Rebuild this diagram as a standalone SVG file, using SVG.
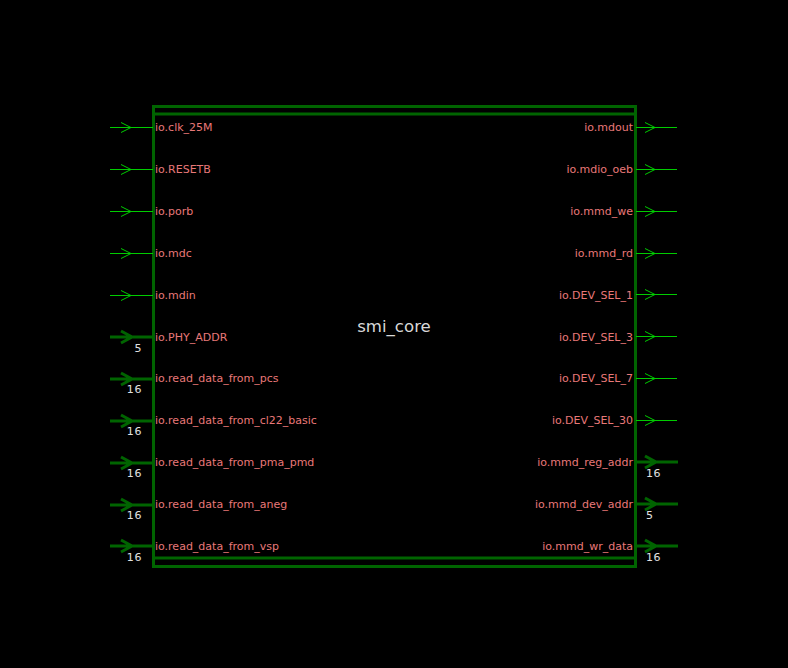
<svg xmlns="http://www.w3.org/2000/svg" width="788" height="668" viewBox="0 0 788 668">
<defs>
<style>
.bg{fill:#000}
.box{fill:none;stroke:#006400;stroke-width:3}
.w1{stroke:#00cc00;stroke-width:1;fill:none}
.wb{stroke:#006400;stroke-width:3;fill:none}
.pl{font-family:"DejaVu Sans",sans-serif;font-size:11px;fill:#e87878}
.pr{font-family:"DejaVu Sans",sans-serif;font-size:11px;fill:#e87878;text-anchor:end}
.wd{font-family:"DejaVu Sans",sans-serif;font-size:11px;fill:#e0e0e0;letter-spacing:0.6px}
.title{font-family:"DejaVu Sans",sans-serif;font-size:16.6px;fill:#d8d8d8;text-anchor:middle}
</style>
</defs>
<rect class="bg" width="788" height="668"/>
<g id="smi_core">
<rect class="box" x="153.5" y="106.5" width="482" height="460"/>
<line class="box" x1="153.5" y1="114" x2="635.5" y2="114"/>
<line class="box" x1="153.5" y1="558" x2="635.5" y2="558"/>
<text class="title" x="394" y="332">smi_core</text>
</g>
<g id="connectors">
<g transform="translate(0,0.5)">
<path class="w1" d="M110 127H153M121 122L131 127L121 132"/>
<path class="w1" d="M110 169H153M121 164L131 169L121 174"/>
<path class="w1" d="M110 211H153M121 206L131 211L121 216"/>
<path class="w1" d="M110 253H153M121 248L131 253L121 258"/>
<path class="w1" d="M110 295H153M121 290L131 295L121 300"/>
<path class="w1" d="M636 127H677M645 122L655 127L645 132"/>
<path class="w1" d="M636 169H677M645 164L655 169L645 174"/>
<path class="w1" d="M636 211H677M645 206L655 211L645 216"/>
<path class="w1" d="M636 253H677M645 248L655 253L645 258"/>
<path class="w1" d="M636 294H677M645 289L655 294L645 299"/>
<path class="w1" d="M636 336H677M645 331L655 336L645 341"/>
<path class="w1" d="M636 378H677M645 373L655 378L645 383"/>
<path class="w1" d="M636 420H677M645 415L655 420L645 425"/>
</g>
<path class="wb" d="M110 337H153M121 331L132 337L121 343"/>
<path class="wb" d="M110 379H153M121 373L132 379L121 385"/>
<path class="wb" d="M110 421H153M121 415L132 421L121 427"/>
<path class="wb" d="M110 463H153M121 457L132 463L121 469"/>
<path class="wb" d="M110 505H153M121 499L132 505L121 511"/>
<path class="wb" d="M110 546H153M121 540L132 546L121 552"/>
<path class="wb" d="M636 462H678M645 456L656 462L645 468"/>
<path class="wb" d="M636 504H678M645 498L656 504L645 510"/>
<path class="wb" d="M636 546H678M645 540L656 546L645 552"/>
</g>
<g id="labels">
<text class="pl" x="155" y="131">io.clk_25M</text>
<text class="pl" x="155" y="173">io.RESETB</text>
<text class="pl" x="155" y="215">io.porb</text>
<text class="pl" x="155" y="257">io.mdc</text>
<text class="pl" x="155" y="299">io.mdin</text>
<text class="pl" x="155" y="341">io.PHY_ADDR</text>
<text class="pl" x="155" y="382">io.read_data_from_pcs</text>
<text class="pl" x="155" y="424">io.read_data_from_cl22_basic</text>
<text class="pl" x="155" y="466">io.read_data_from_pma_pmd</text>
<text class="pl" x="155" y="508">io.read_data_from_aneg</text>
<text class="pl" x="155" y="550">io.read_data_from_vsp</text>
<text class="wd" x="142" y="352" text-anchor="end">5</text>
<text class="wd" x="142" y="393" text-anchor="end">16</text>
<text class="wd" x="142" y="435" text-anchor="end">16</text>
<text class="wd" x="142" y="477" text-anchor="end">16</text>
<text class="wd" x="142" y="519" text-anchor="end">16</text>
<text class="wd" x="142" y="561" text-anchor="end">16</text>
<text class="pr" x="633" y="131">io.mdout</text>
<text class="pr" x="633" y="173">io.mdio_oeb</text>
<text class="pr" x="633" y="215">io.mmd_we</text>
<text class="pr" x="633" y="257">io.mmd_rd</text>
<text class="pr" x="633" y="299">io.DEV_SEL_1</text>
<text class="pr" x="633" y="341">io.DEV_SEL_3</text>
<text class="pr" x="633" y="382">io.DEV_SEL_7</text>
<text class="pr" x="633" y="424">io.DEV_SEL_30</text>
<text class="pr" x="633" y="466">io.mmd_reg_addr</text>
<text class="pr" x="633" y="508">io.mmd_dev_addr</text>
<text class="pr" x="633" y="550">io.mmd_wr_data</text>
<text class="wd" x="646" y="477">16</text>
<text class="wd" x="646" y="519">5</text>
<text class="wd" x="646" y="561">16</text>
</g>
</svg>
